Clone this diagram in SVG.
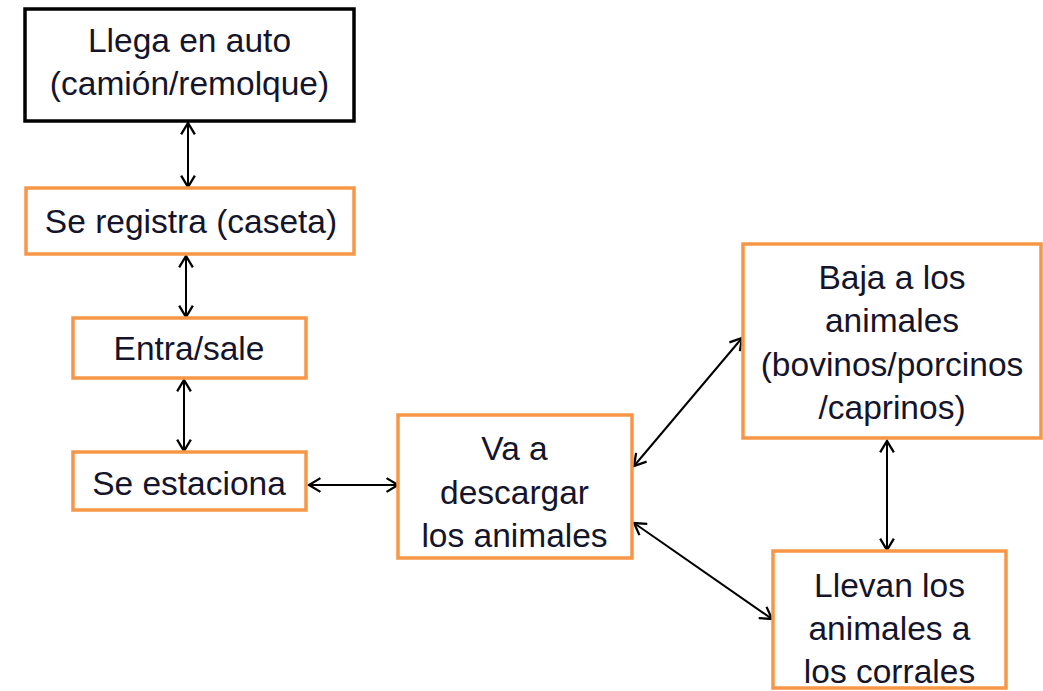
<svg xmlns="http://www.w3.org/2000/svg" width="1043" height="691" viewBox="0 0 1043 691">
<style>
.box{fill:#fff;stroke:#F79646;stroke-width:3.5}
.start{fill:#fff;stroke:#000;stroke-width:3.5}
.t{font-family:"Liberation Sans",Arial,sans-serif;font-size:33.5px;fill:#14142a;text-anchor:middle}
.c{stroke:#000;stroke-width:2;fill:none;marker-start:url(#ah);marker-end:url(#ah)}
</style>
<defs>
<marker id="ah" markerUnits="userSpaceOnUse" markerWidth="16" markerHeight="16" refX="11" refY="7" orient="auto-start-reverse" viewBox="0 0 14 14">
<path d="M1,1 L11,7 L1,13" fill="none" stroke="#000" stroke-width="2"/>
</marker>
</defs>
<rect width="1043" height="691" fill="#fff"/>
<g id="connectors">
<line class="c" x1="188" y1="123" x2="188" y2="187"/>
<line class="c" x1="186" y1="256" x2="186" y2="317"/>
<line class="c" x1="184" y1="380" x2="184" y2="451"/>
<line class="c" x1="309" y1="485" x2="398" y2="485"/>
<line class="c" x1="634" y1="466" x2="742" y2="338"/>
<line class="c" x1="634" y1="523" x2="772" y2="619"/>
<line class="c" x1="887" y1="441" x2="887" y2="550"/>
</g>
<g id="n1">
<rect class="start" x="25" y="9" width="329" height="112"/>
<text class="t" x="189.5" y="52">Llega en auto</text>
<text class="t" x="189.5" y="95">(camión/remolque)</text>
</g>
<g id="n2">
<rect class="box" x="26" y="188" width="328" height="66"/>
<text class="t" x="191" y="233">Se registra (caseta)</text>
</g>
<g id="n3">
<rect class="box" x="73" y="318" width="233" height="60"/>
<text class="t" x="189" y="360">Entra/sale</text>
</g>
<g id="n4">
<rect class="box" x="73" y="452" width="233" height="58"/>
<text class="t" x="189" y="495">Se estaciona</text>
</g>
<g id="n5">
<rect class="box" x="398" y="415" width="234" height="143"/>
<text class="t" x="514.5" y="460">Va a</text>
<text class="t" x="514.5" y="504">descargar</text>
<text class="t" x="514.5" y="547">los animales</text>
</g>
<g id="n6">
<rect class="box" x="743" y="244" width="298" height="194"/>
<text class="t" x="892" y="289">Baja a los</text>
<text class="t" x="892" y="332">animales</text>
<text class="t" x="892" y="376">(bovinos/porcinos</text>
<text class="t" x="892" y="419">/caprinos)</text>
</g>
<g id="n7">
<rect class="box" x="773" y="551" width="233" height="137"/>
<text class="t" x="889.5" y="597">Llevan los</text>
<text class="t" x="889.5" y="640">animales a</text>
<text class="t" x="889.5" y="683">los corrales</text>
</g>
</svg>
